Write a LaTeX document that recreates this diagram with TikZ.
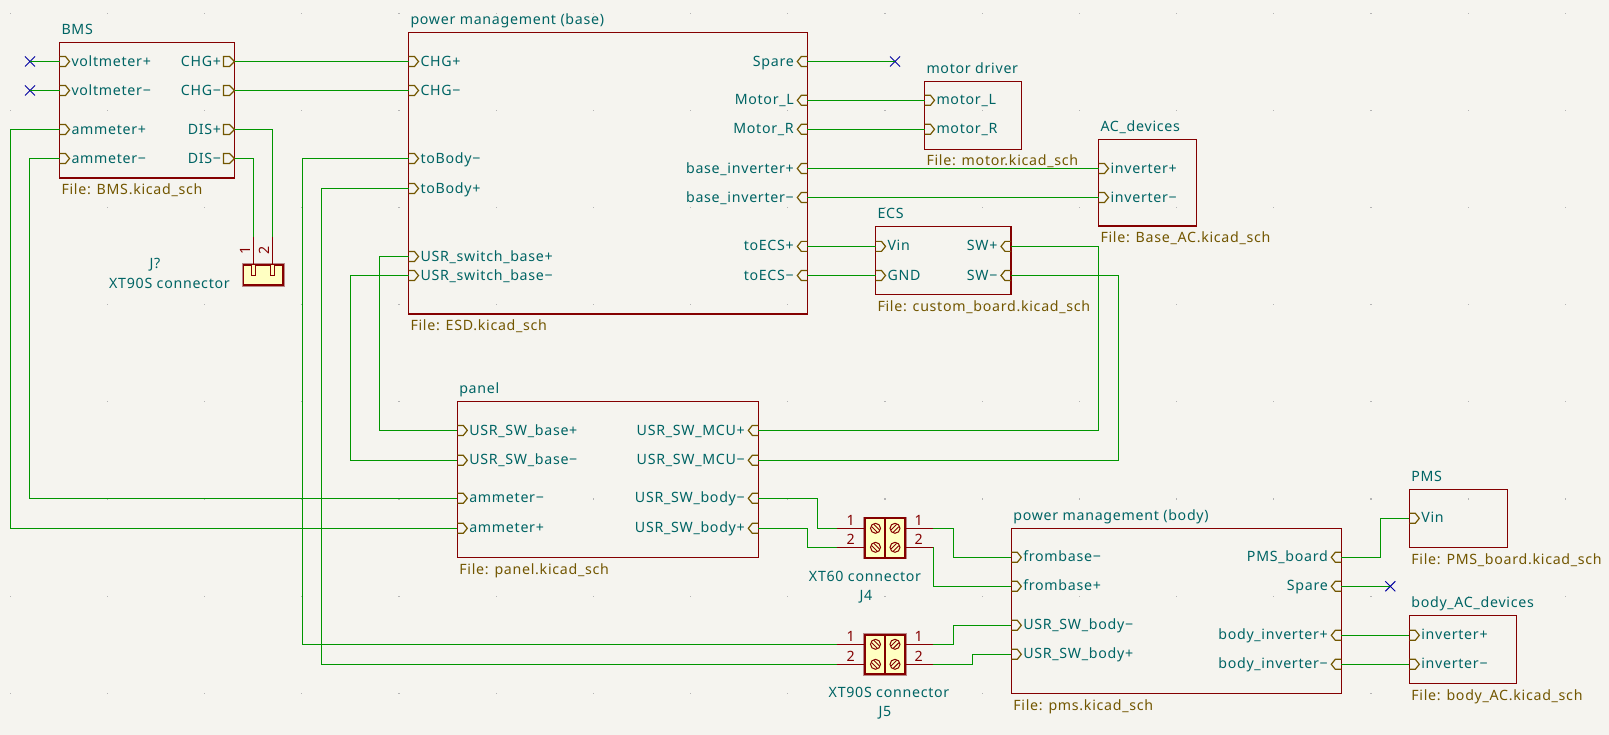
\documentclass[tikz,border=0pt]{standalone}
\usepackage{fontspec}
\setmainfont{Noto Sans}[LetterSpace=5]
\definecolor{bgc}{HTML}{F5F4EF}
\definecolor{sheetc}{HTML}{840000}
\definecolor{wirec}{HTML}{009600}
\definecolor{pinc}{HTML}{725600}
\definecolor{textc}{HTML}{006464}
\definecolor{ncc}{HTML}{0000A0}
\definecolor{bodyc}{HTML}{FFFFC2}
\definecolor{haloc}{HTML}{B98A8A}
\definecolor{gridc}{HTML}{B4B4B4}
\tikzset{
  x=1pt,y=-1pt,
  lab/.style={inner sep=0pt,outer sep=0pt,text=textc,font=\fontsize{14.2}{16}\selectfont},
  filelab/.style={lab,text=pinc},
  numlab/.style={lab,text=sheetc},
  sheetbox/.style={draw=sheetc,line width=1.2pt,inner sep=0pt,outer sep=0pt},
  wire/.style={draw=wirec,line width=1.2pt},
  pinline/.style={draw=pinc,line width=1.2pt,line join=miter},
  redline/.style={draw=sheetc,line width=1.2pt},
  ncmark/.style={draw=ncc,line width=1pt},
}
% sheet: name x1 y1 x2 y2 title file
\newcommand{\sheetblock}[7]{%
  \pgfmathsetmacro{\mycx}{(#2+#4)/2}\pgfmathsetmacro{\mycy}{(#3+#5)/2}%
  \pgfmathsetmacro{\myw}{#4-#2}\pgfmathsetmacro{\myh}{#5-#3}%
  \node[sheetbox,minimum width=\myw pt,minimum height=\myh pt] (#1) at (\mycx,\mycy) {};
  \pgfmathsetmacro{\mytx}{#2+2}\pgfmathsetmacro{\myty}{#3-7.5}\pgfmathsetmacro{\myfy}{#5+16.7}%
  \node[lab,anchor=base west] (#1-title) at (\mytx,\myty) {#6};
  \node[filelab,anchor=base west] (#1-file) at (\mytx,\myfy) {#7};
}
\newcommand{\pinin}[4]{% name x y label: pin on a left edge
  \coordinate (#1) at (#2,#3);
  \draw[pinline] (#1) ++(0,-5) -- ++(6,0) -- ++(4,5) -- ++(-4,5) -- ++(-6,0);
  \node[lab,anchor=base west] (#1-l) at ([xshift=12pt,yshift=-4.6pt]#1) {#4};
}
\newcommand{\pinrin}[4]{% name x y label: pin on a right edge, pointing in
  \coordinate (#1) at (#2,#3);
  \draw[pinline] (#1) ++(0,-5) -- ++(-6,0) -- ++(-4,5) -- ++(4,5) -- ++(6,0);
  \node[lab,anchor=base east] (#1-l) at ([xshift=-13.5pt,yshift=-4.6pt]#1) {#4};
}
\newcommand{\pinrout}[4]{% name x y label: pin on a right edge, pointing out
  \coordinate (#1) at (#2,#3);
  \draw[pinline] (#1) ++(-11,-5) -- ++(6,0) -- ++(5,5) -- ++(-5,5) -- ++(-6,0) -- cycle;
  \node[lab,anchor=base east] (#1-l) at ([xshift=-13.5pt,yshift=-4.6pt]#1) {#4};
}
\newcommand{\ncmark}[3]{%
  \coordinate (#1) at (#2,#3);
  \draw[ncmark] (#1) ++(-5,-5) -- ++(10,10) (#1) ++(-5,5) -- ++(10,-10);
}
\newcommand{\hvhwire}[3]{% from, x of the vertical run, to
  \coordinate (vrun) at (#2,0);
  \draw[wire] (#1) -- (#1 -| vrun) -- (#3 -| vrun) -- (#3);
}
\newcommand{\screw}[3]{% x y; #3 = slash sign
  \draw[sheetc,line width=1pt] (#1,#2) circle[radius=5pt];
  \draw[sheetc,line width=0.9pt]
     (#1,#2) ++(-3.9,#3*-1.6) -- ++(5.5,#3*5.5)
     (#1,#2) ++(-1.6,#3*-3.9) -- ++(5.5,#3*5.5);
}
% terminal block: name, y of pin1, y of pin2, top, bottom
\newcommand{\terminal}[5]{%
  \pgfmathsetmacro{\mymy}{(#4+#5)/2}\pgfmathsetmacro{\myhh}{#5-#4}%
  \node[draw=haloc,line width=3.2pt,minimum width=40pt,minimum height=\myhh pt,inner sep=0pt,outer sep=0pt] (#1-halo) at (885,\mymy) {};
  \node[sheetbox,fill=bodyc,line width=1.8pt,minimum width=40pt,minimum height=\myhh pt] (#1) at (885,\mymy) {};
  \draw[sheetc,line width=1.8pt] (885,#4) -- (885,#5);
  \screw{875.5}{#2}{1}\screw{875.5}{#3}{1}\screw{895}{#2}{-1}\screw{895}{#3}{-1}
  \coordinate (#1-la) at (837,#2);\coordinate (#1-lb) at (837,#3);
  \coordinate (#1-ra) at (933.4,#2);\coordinate (#1-rb) at (933.4,#3);
  \draw[redline] (#1-la) -- (865,#2) (#1-lb) -- (865,#3) (#1-ra) -- (905,#2) (#1-rb) -- (905,#3);
  \pgfmathsetmacro{\mya}{#2-3.3}\pgfmathsetmacro{\myb}{#3-3.3}%
  \node[numlab,anchor=base] (#1-n1) at (850.7,\mya) {1};
  \node[numlab,anchor=base] (#1-n2) at (850.7,\myb) {2};
  \node[numlab,anchor=base] (#1-n3) at (918.7,\mya) {1};
  \node[numlab,anchor=base] (#1-n4) at (918.7,\myb) {2};
}
\begin{document}
\begin{tikzpicture}
\useasboundingbox (0,0) rectangle (1609,735);
\fill[bgc] (0,0) rectangle (1609,735);
% grid
\foreach \i in {0,...,16}\foreach \j in {0,...,7}{
  \fill[gridc] ({10.3+97.19*\i-0.6},{13.3+97.14*\j-0.6}) rectangle ++(1.2,1.2);
}
% sheets
\sheetblock{bms}{59.5}{42.5}{234.5}{178}{BMS}{File: BMS.kicad\_sch}
\sheetblock{base}{408.5}{32.5}{807.3}{314}{power management (base)}{File: ESD.kicad\_sch}
\sheetblock{motor}{924.5}{81.5}{1021.5}{149.3}{motor driver}{File: motor.kicad\_sch}
\sheetblock{acd}{1098.5}{139.5}{1196.5}{226}{AC\_devices}{File: Base\_AC.kicad\_sch}
\sheetblock{ecs}{875.5}{226.5}{1011}{294.5}{ECS}{File: custom\_board.kicad\_sch}
\sheetblock{panel}{457.3}{401.3}{758.3}{557.3}{panel}{File: panel.kicad\_sch}
\sheetblock{body}{1011.3}{528.3}{1341.3}{693.3}{power management (body)}{File: pms.kicad\_sch}
\sheetblock{pms}{1409.3}{489.3}{1507.3}{547.3}{PMS}{File: PMS\_board.kicad\_sch}
\sheetblock{bac}{1409.3}{615.3}{1516.3}{683.3}{body\_AC\_devices}{File: body\_AC.kicad\_sch}
% BMS pins
\pinin{bvp}{59.5}{61.5}{voltmeter+}
\pinin{bvm}{59.5}{90.5}{voltmeter−}
\pinin{bap}{59.5}{129.5}{ammeter+}
\pinin{bam}{59.5}{158.5}{ammeter−}
\pinrout{bcp}{234.5}{61.5}{CHG+}
\pinrout{bcm}{234.5}{90.5}{CHG−}
\pinrout{bdp}{234.5}{129.5}{DIS+}
\pinrout{bdm}{234.5}{158.5}{DIS−}
% base pins
\pinin{mcp}{408.5}{61.5}{CHG+}
\pinin{mcm}{408.5}{90.5}{CHG−}
\pinin{mbm}{408.5}{158.5}{toBody−}
\pinin{mbp}{408.5}{188.5}{toBody+}
\pinin{mup}{408.5}{256.5}{USR\_switch\_base+}
\pinin{mum}{408.5}{275.5}{USR\_switch\_base−}
\pinrin{msp}{807.3}{61.5}{Spare}
\pinrin{mml}{807.3}{100.3}{Motor\_L}
\pinrin{mmr}{807.3}{129.3}{Motor\_R}
\pinrin{mip}{807.3}{168.5}{base\_inverter+}
\pinrin{mim}{807.3}{197.5}{base\_inverter−}
\pinrin{mep}{807.3}{246.4}{toECS+}
\pinrin{mem}{807.3}{275.5}{toECS−}
% motor, AC, ECS
\pinin{dl}{924.5}{100.3}{motor\_L}
\pinin{dr}{924.5}{129.3}{motor\_R}
\pinin{aip}{1098.5}{168.5}{inverter+}
\pinin{aim}{1098.5}{197.5}{inverter−}
\pinin{evin}{875.5}{246.4}{Vin}
\pinin{egnd}{875.5}{275.5}{GND}
\pinrin{esp}{1011}{246.4}{SW+}
\pinrin{esm}{1011}{275.5}{SW−}
% panel
\pinin{pbp}{457.3}{430.4}{USR\_SW\_base+}
\pinin{pbm}{457.3}{460.3}{USR\_SW\_base−}
\pinin{pam}{457.3}{498.3}{ammeter−}
\pinin{pap}{457.3}{528.3}{ammeter+}
\pinrin{pmp}{758.3}{430.4}{USR\_SW\_MCU+}
\pinrin{pmm}{758.3}{460.3}{USR\_SW\_MCU−}
\pinrin{pym}{758.3}{498.3}{USR\_SW\_body−}
\pinrin{pyp}{758.3}{528.3}{USR\_SW\_body+}
% body
\pinin{yfm}{1011.3}{557.3}{frombase−}
\pinin{yfp}{1011.3}{586.3}{frombase+}
\pinin{yum}{1011.3}{625.3}{USR\_SW\_body−}
\pinin{yup}{1011.3}{654.3}{USR\_SW\_body+}
\pinrin{ypb}{1341.3}{557.3}{PMS\_board}
\pinrin{ysp}{1341.3}{586.3}{Spare}
\pinrin{yip}{1341.3}{635.3}{body\_inverter+}
\pinrin{yim}{1341.3}{664.3}{body\_inverter−}
% PMS, body AC
\pinin{pvin}{1409.3}{518.3}{Vin}
\pinin{bip}{1409.3}{635.3}{inverter+}
\pinin{bim}{1409.3}{664.3}{inverter−}
% no-connect marks
\ncmark{nc1}{30}{61.5}
\ncmark{nc2}{30}{90.5}
\ncmark{nc3}{895}{61.5}
\ncmark{nc4}{1390.3}{586.3}
% J?
\node[draw=haloc,line width=3.2pt,minimum width=39.5pt,minimum height=20pt,inner sep=0pt,outer sep=0pt] (jhalo) at (263.2,275) {};
\node[sheetbox,fill=bodyc,line width=1.8pt,minimum width=39.5pt,minimum height=20pt] (jq) at (263.2,275) {};
\coordinate (jqa) at (253.7,237);
\coordinate (jqb) at (272.7,237);
\draw[redline] (jqa) -- (253.7,276) (jqb) -- (272.7,276);
\draw[sheetc,line width=1pt,fill=bodyc] (251.7,265) rectangle (255.7,276);
\draw[sheetc,line width=1pt,fill=bodyc] (270.7,265) rectangle (274.7,276);
\node[numlab,rotate=90] (jqn1) at (245,250.7) {1};
\node[numlab,rotate=90] (jqn2) at (264,250.7) {2};
\node[lab,anchor=base] (jqref) at (155,269) {J?};
\node[lab,anchor=base] (jqval) at (169.5,289) {XT90S connector};
% terminals
\terminal{jf}{528.3}{547.3}{518.3}{557.7}
\terminal{jv}{644.3}{664.3}{635}{674.3}
\node[lab,anchor=base] (jfval) at (865,581) {XT60 connector};
\node[lab,anchor=base] (jfref) at (866,600) {J4};
\node[lab,anchor=base] (jvval) at (889,697.5) {XT90S connector};
\node[lab,anchor=base] (jvref) at (885,716.5) {J5};
% wires
\draw[wire] (nc1) -- (bvp);
\draw[wire] (nc2) -- (bvm);
\draw[wire] (bcp) -- (mcp);
\draw[wire] (bcm) -- (mcm);
\draw[wire] (msp) -- (nc3);
\draw[wire] (mml) -- (dl);
\draw[wire] (mmr) -- (dr);
\draw[wire] (mip) -- (aip);
\draw[wire] (mim) -- (aim);
\draw[wire] (mep) -- (evin);
\draw[wire] (mem) -- (egnd);
\draw[wire] (ysp) -- (nc4);
\draw[wire] (yip) -- (bip);
\draw[wire] (yim) -- (bim);
\hvhwire{bap}{10.5}{pap}
\hvhwire{bam}{29.7}{pam}
\hvhwire{mbm}{302.5}{jv-la}
\hvhwire{mbp}{321.5}{jv-lb}
\hvhwire{mup}{379.3}{pbp}
\hvhwire{mum}{350.3}{pbm}
\hvhwire{pmp}{1098.4}{esp}
\hvhwire{pmm}{1118.3}{esm}
\hvhwire{pym}{817.3}{jf-la}
\hvhwire{pyp}{807.3}{jf-lb}
\hvhwire{jf-ra}{953.3}{yfm}
\draw[wire] (jf-rb) |- (yfp);
\hvhwire{jv-ra}{953.3}{yum}
\hvhwire{jv-rb}{972.3}{yup}
\hvhwire{ypb}{1380.3}{pvin}
\draw[wire] (bdp) -| (jqb);
\draw[wire] (bdm) -| (jqa);
\end{tikzpicture}
\end{document}
